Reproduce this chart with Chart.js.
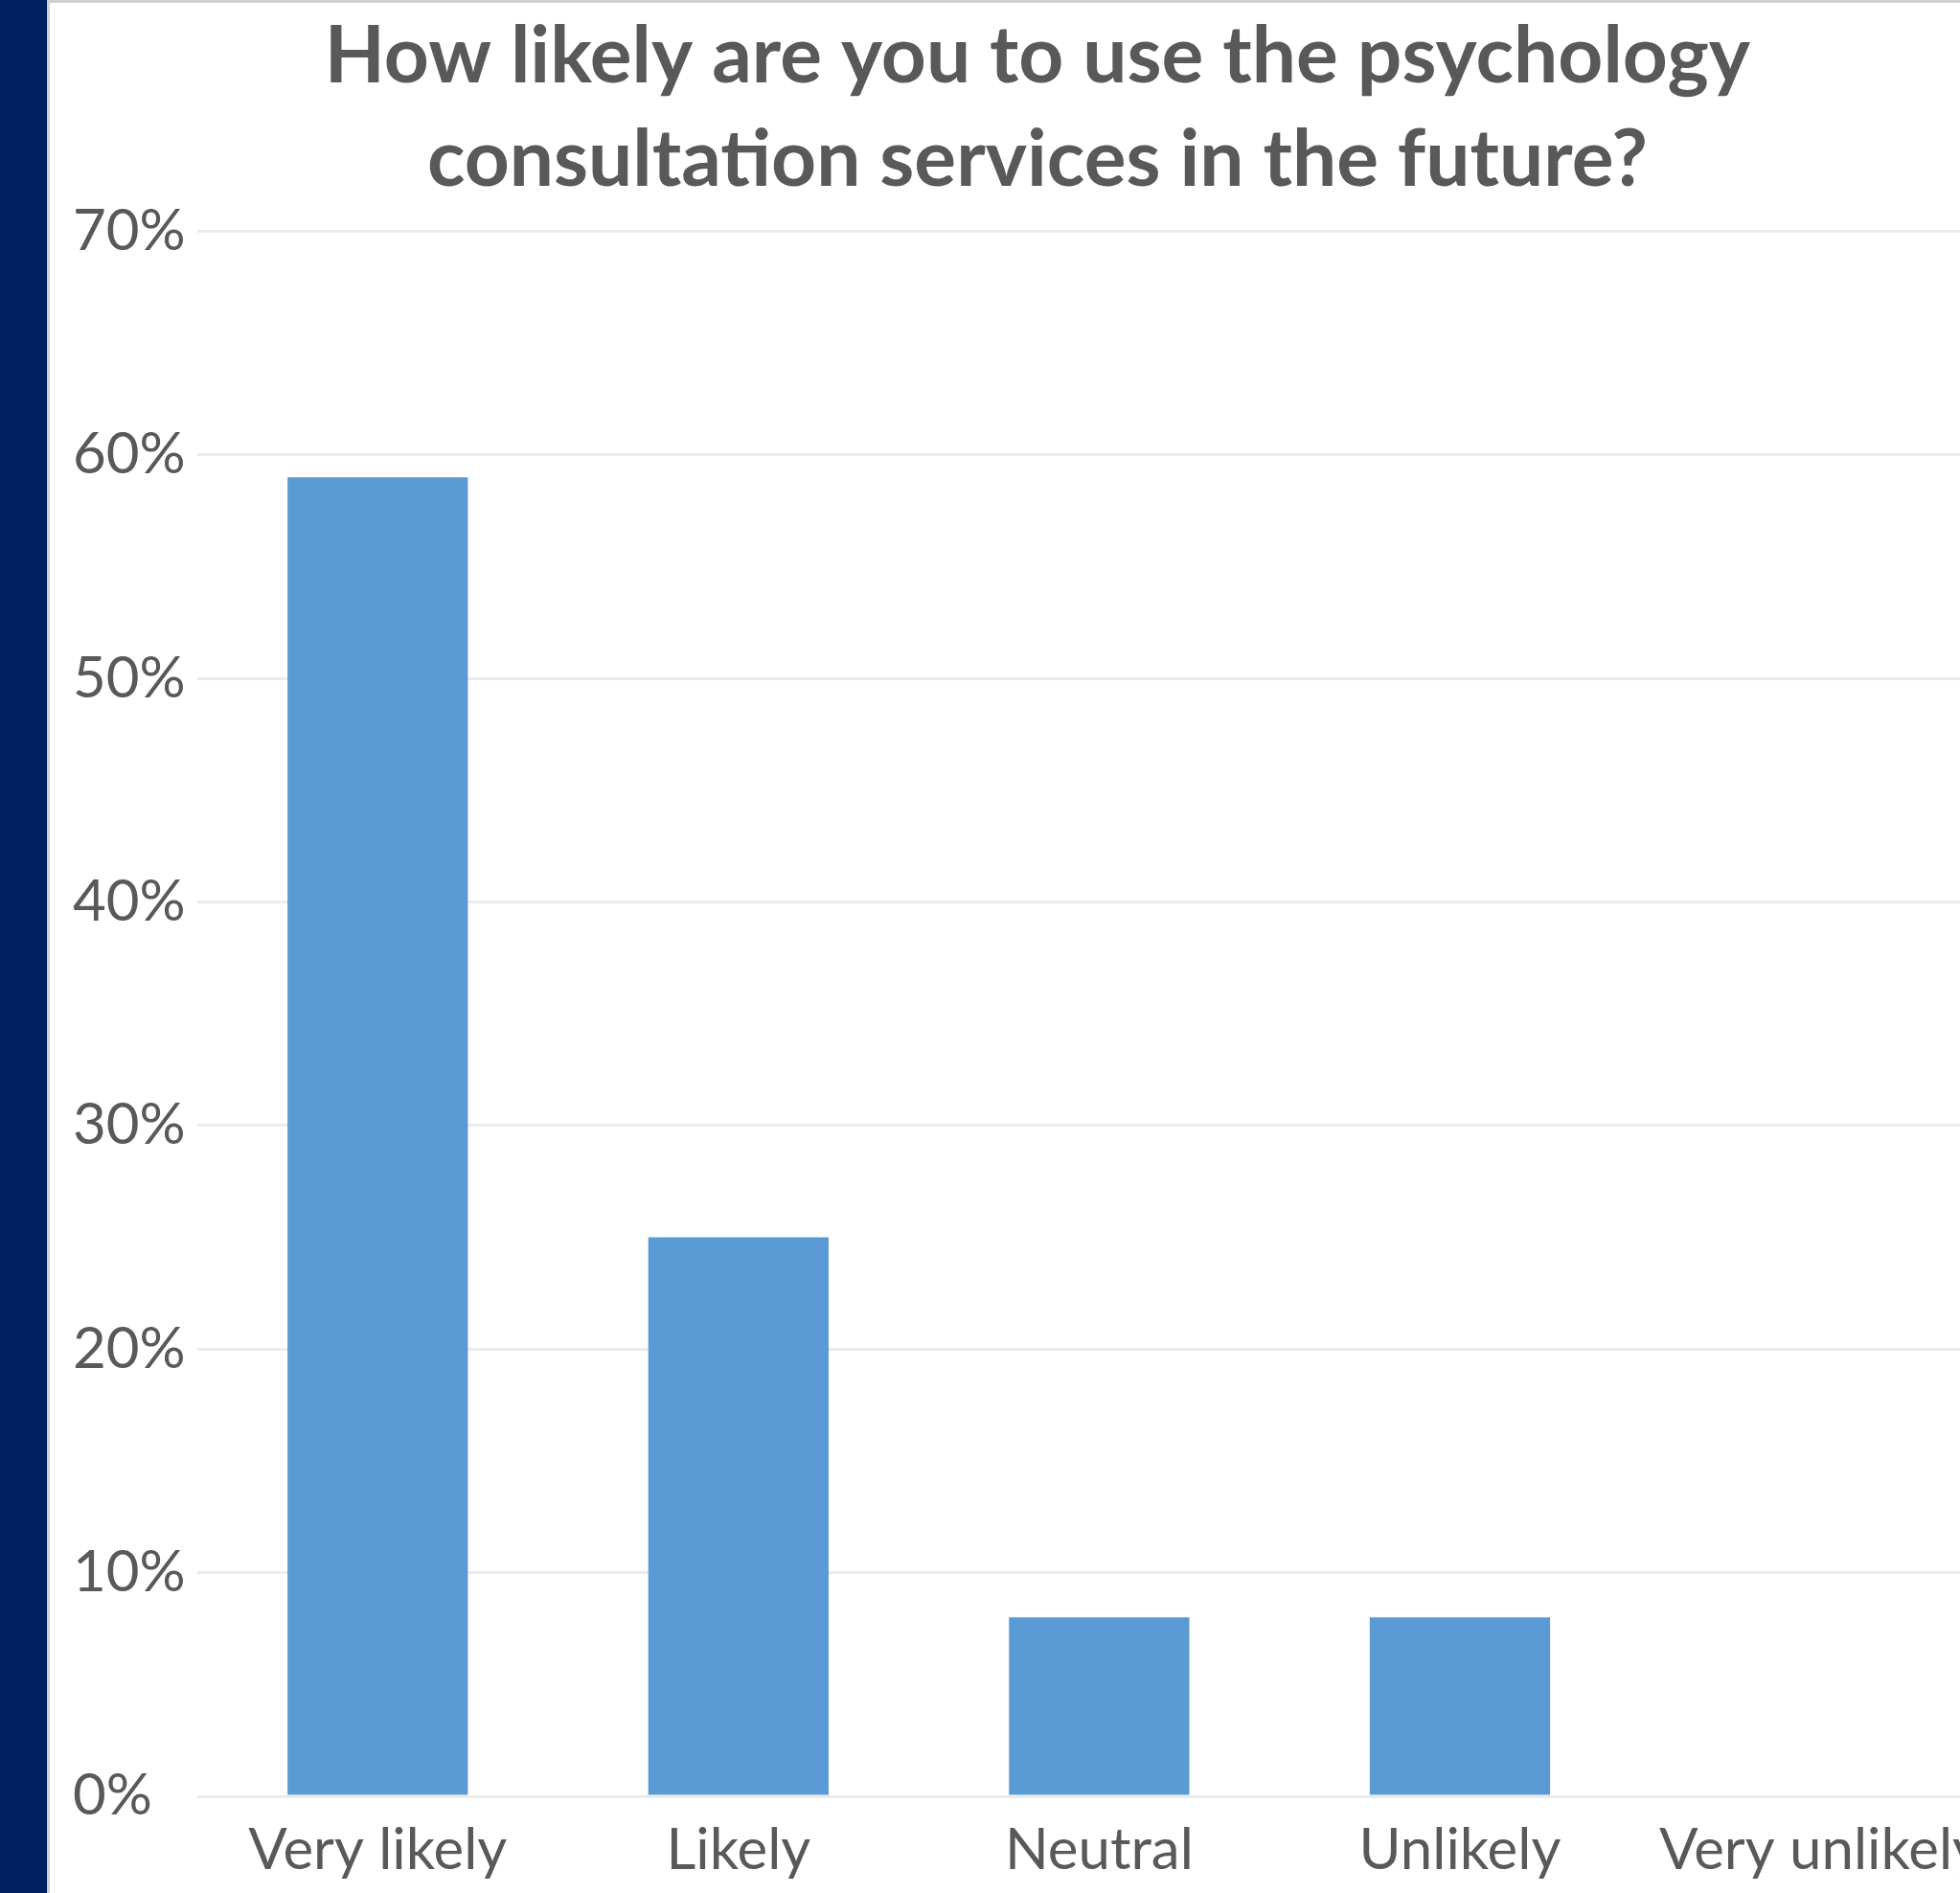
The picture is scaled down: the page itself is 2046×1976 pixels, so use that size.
<!DOCTYPE html>
<html>
<head>
<meta charset="utf-8">
<script src="https://cdn.jsdelivr.net/npm/chart.js@4"></script>
<style>
  html, body { margin: 0; padding: 0; background: #fff; overflow: hidden; width: 2046px; height: 1976px; }
  #strip { position: absolute; left: 0; top: 0; width: 49px; height: 1976px; background: #022060; }
  #edge { position: absolute; left: 49px; top: 0; width: 3px; height: 1976px; background: #cfcfcf; }
  #topline { position: absolute; left: 52px; top: 0; width: 2000px; height: 3px; background: #cfcfcf; }
  #wrap { position: absolute; left: 53px; top: 3px; width: 2037px; height: 1973px; }
</style>
</head>
<body>
<div id="strip"></div>
<div id="edge"></div>
<div id="topline"></div>
<div id="wrap"><canvas id="likelyChart"></canvas></div>
<script>
const categories = ['Very likely', 'Likely', 'Neutral', 'Unlikely', 'Very unlikely'];
const shares = [59, 25, 8, 8, 0];
const yTicks = [0, 10, 20, 30, 40, 50, 60, 70];

Chart.defaults.font.family = 'Lato, "Open Sans", sans-serif';
Chart.defaults.color = '#595959';

const ctx = document.getElementById('likelyChart');
new Chart(ctx, {
  type: 'bar',
  data: {
    labels: categories,
    datasets: [{
      label: 'Share',
      data: shares,
      backgroundColor: '#5B9BD5',
      borderWidth: 0,
      categoryPercentage: 1,
      barPercentage: 0.5
    }]
  },
  options: {
    responsive: true,
    maintainAspectRatio: false,
    animation: false,
    layout: { padding: { left: 23, right: 0, top: 0, bottom: 0 } },
    plugins: {
      legend: { display: false },
      tooltip: { enabled: false },
      title: {
        display: true,
        text: ['How likely are you to use the psychology', 'consultation services in the future?'],
        color: '#595959',
        font: { size: 82, weight: 'bold', lineHeight: 1.32 },
        padding: { top: 2, bottom: 20 }
      }
    },
    scales: {
      x: {
        grid: { display: false, drawTicks: false },
        border: { display: false },
        ticks: { font: { size: 60 }, color: '#595959', padding: 21, maxRotation: 0, autoSkip: false },
        afterFit: (s) => { s.height = 1976 - 1875; }
      },
      y: {
        min: 0,
        max: 70,
        afterBuildTicks: (s) => { s.ticks = yTicks.map(v => ({ value: v })); },
        grid: { color: '#ebebeb', lineWidth: 3, drawTicks: false },
        border: { display: false },
        ticks: {
          font: { size: 60 },
          color: '#595959',
          crossAlign: 'far',
          padding: 0,
          callback: (v) => v + '%'
        },
        afterFit: (s) => { s.width = 206 - 76; }
      }
    }
  }
});
</script>
</body>
</html>
